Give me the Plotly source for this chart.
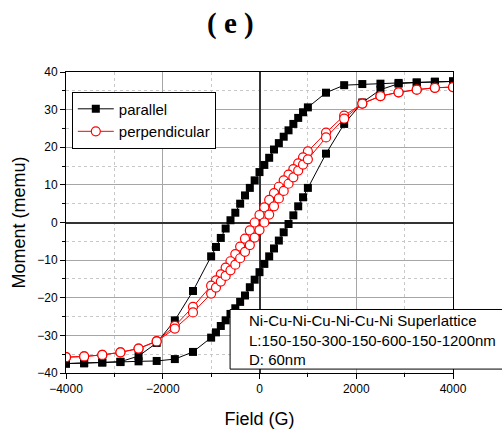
import plotly.graph_objects as go

# Applied field sequence: sweep down from +4000 G to -4000 G, then back up
field_down = [4000, 3625, 3250, 2875, 2500, 2125, 1750, 1375, 1000, 900, 800, 700,
              600, 500, 400, 300, 200, 100, 0, -100, -200, -300, -400, -500, -600,
              -700, -800, -900, -1000, -1375, -1750, -2125, -2500, -2875, -3250,
              -3625, -4000]
field_up = field_down[::-1]

# Moment (memu), field parallel to the film
par_down = [37.5, 37.4, 37.2, 37.1, 36.9, 36.8, 36.5, 34.5, 30.6, 29.3, 27.8, 26.2,
            24.5, 22.8, 21.1, 19.4, 17.2, 15.3, 13.4, 11.2, 9.2, 7.2, 5.0, 2.6, 0.6,
            -1.6, -4.1, -6.5, -9.0, -18.2, -26.0, -32.0, -35.5, -37.0, -37.2,
            -37.4, -37.5]
par_up = [-37.5, -37.4, -37.2, -37.1, -36.9, -36.8, -36.3, -34.4, -30.6, -29.2,
          -27.5, -26.0, -24.3, -22.8, -21.1, -19.4, -17.2, -15.2, -13.2, -11.0,
          -9.0, -6.9, -4.8, -2.6, -0.4, 1.9, 4.3, 6.7, 9.2, 18.3, 26.2, 31.9, 35.3,
          36.9, 37.2, 37.4, 37.5]

# Moment (memu), field perpendicular to the film
perp_down = [36.0, 35.8, 35.3, 34.6, 33.6, 31.6, 28.4, 23.9, 18.9, 17.3, 15.7, 14.2,
             12.7, 11.2, 9.5, 7.8, 6.0, 4.0, 2.0, 0.0, -2.1, -4.3, -6.4, -8.4, -10.3,
             -12.0, -13.8, -15.4, -16.8, -22.4, -27.5, -31.5, -33.5, -34.5, -35.2,
             -35.6, -35.8]
perp_up = [-35.8, -35.6, -35.2, -34.5, -33.5, -31.6, -28.2, -23.9, -18.9, -17.3,
           -15.7, -14.2, -12.7, -11.2, -9.5, -7.8, -6.0, -4.0, -2.0, 0.0, 2.1, 4.3,
           6.4, 8.4, 10.3, 12.0, 13.8, 15.4, 16.8, 22.6, 27.6, 31.6, 33.6, 34.6,
           35.3, 35.8, 36.0]

x_ticks = [-4000, -2000, 0, 2000, 4000]
y_ticks = [-40, -30, -20, -10, 0, 10, 20, 30, 40]

sample_lines = ["Ni-Cu-Ni-Cu-Ni-Cu-Ni Superlattice",
                "L:150-150-300-150-600-150-1200nm",
                "D: 60nm"]

SANS = "Liberation Sans, Arial, sans-serif"

fig = go.Figure()
fig.add_trace(go.Scatter(
    x=field_down + field_up, y=par_down + par_up, name="parallel",
    mode="lines+markers",
    line=dict(color="black", width=1),
    marker=dict(symbol="square", size=8, color="black"),
))
fig.add_trace(go.Scatter(
    x=field_down + field_up, y=perp_down + perp_up, name="perpendicular",
    mode="lines+markers",
    line=dict(color="red", width=1),
    marker=dict(symbol="circle", size=9, color="white",
                line=dict(color="red", width=1.2)),
))

axis_common = dict(
    showline=True, linecolor="black", linewidth=1, mirror=True,
    showgrid=True, gridcolor="#a6a6a6", gridwidth=1,
    zeroline=True, zerolinecolor="#333333", zerolinewidth=2,
    ticks="outside", ticklen=5, tickcolor="black", tickwidth=1,
    tickfont=dict(family=SANS, size=12, color="black"),
)

fig.update_xaxes(
    range=[-4000, 4000], tickvals=x_ticks,
    minor=dict(dtick=1000, showgrid=True, griddash="dot", gridcolor="#c8c8c8",
               ticks="outside", ticklen=3, tickcolor="black"),
    title=dict(text="Field (G)", standoff=16,
               font=dict(family=SANS, size=18, color="black")),
    **axis_common,
)
fig.update_yaxes(
    range=[-40, 40], tickvals=y_ticks,
    minor=dict(dtick=5, showgrid=True, griddash="dot", gridcolor="#c8c8c8",
               ticks="outside", ticklen=3, tickcolor="black"),
    title=dict(text="Moment (memu)", standoff=6,
               font=dict(family=SANS, size=18, color="black")),
    **axis_common,
)

# Sample description box, running past the right edge
fig.add_shape(type="rect", xref="paper", yref="paper",
              x0=0.424, x1=1.25, y0=0.013, y1=0.211,
              line=dict(color="black", width=1), fillcolor="white", layer="above")
fig.add_annotation(xref="paper", yref="paper", x=0.468, y=0.108,
                   xanchor="left", yanchor="middle", align="left", showarrow=False,
                   text="<br>".join(sample_lines),
                   font=dict(family=SANS, size=15, color="black"))

# Panel label
fig.add_annotation(xref="paper", yref="paper", x=0.426, y=1.16,
                   xanchor="center", yanchor="middle", showarrow=False,
                   text="<b>( e )</b>",
                   font=dict(family="Liberation Serif, Times New Roman, serif",
                             size=29, color="black"))

fig.update_layout(
    width=502, height=437,
    margin=dict(l=66, r=49, t=72, b=55),
    paper_bgcolor="white", plot_bgcolor="white",
    showlegend=True,
    legend=dict(x=0.015, y=0.935, xanchor="left", yanchor="top",
                bgcolor="white", bordercolor="black", borderwidth=1,
                font=dict(family=SANS, size=15, color="black"),
                itemwidth=36, tracegroupgap=0),
)

fig.write_html("out.html")
